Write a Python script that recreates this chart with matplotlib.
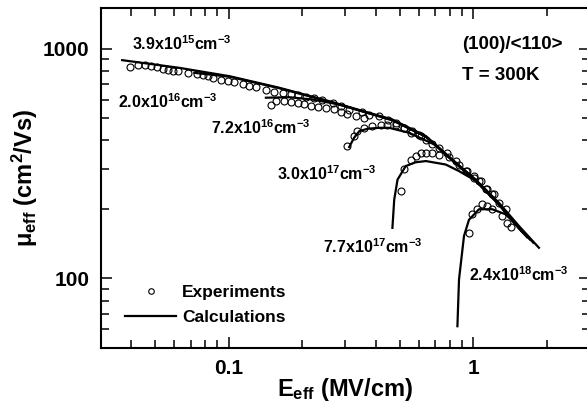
import matplotlib
matplotlib.use('Agg')
import matplotlib.pyplot as plt
from matplotlib.ticker import LogLocator, NullFormatter

plt.rcParams['font.family'] = ['Liberation Sans', 'DejaVu Sans']
plt.rcParams['font.weight'] = 'bold'
plt.rcParams['mathtext.fontset'] = 'custom'
plt.rcParams['mathtext.rm'] = 'Liberation Sans:bold'
plt.rcParams['mathtext.it'] = 'Liberation Sans:bold'
plt.rcParams['mathtext.bf'] = 'Liberation Sans:bold'

# experiments (E_eff in MV/cm, mobility in cm^2/Vs)
exp_39e15_x = [0.0396, 0.0425, 0.0453, 0.0482, 0.0508, 0.0538, 0.0564, 0.0591, 0.0623, 0.068,
               0.074, 0.0783, 0.0821, 0.0861, 0.0931, 0.0991, 0.1055, 0.114, 0.1215, 0.1294]
exp_39e15_y = [832, 844, 844, 838, 829, 816, 805, 797, 797, 784,
               776, 769, 758, 746, 733, 721, 714, 703, 686, 682]
exp_2e16_x = [0.1421, 0.1536, 0.1661, 0.1797, 0.1912, 0.2069, 0.2238, 0.2418, 0.2658, 0.2876,
              0.311, 0.35, 0.3753, 0.4122, 0.4465, 0.4823, 0.5214, 0.5553, 0.6003, 0.6392,
              0.680, 0.7244, 0.783, 0.8478, 0.931, 1.007, 1.055, 1.124, 1.196, 1.273, 1.356]
exp_2e16_y = [659, 648, 642, 631, 627, 617, 611, 600, 582, 560,
              538, 530, 516, 508, 488, 475, 452, 430, 419, 402,
              385, 368, 352, 324, 293, 279, 265, 244, 232, 213, 200]
exp_72e16_x = [0.149, 0.1561, 0.1689, 0.1797, 0.1912, 0.2037, 0.2169, 0.2308, 0.2498, 0.27,
               0.2876, 0.306, 0.3311, 0.3579]
exp_72e16_y = [567, 590, 590, 587, 581, 571, 561, 556, 552, 543,
               531, 520, 508, 500]
exp_3e17_x = [0.306, 0.3259, 0.3362, 0.3579, 0.3871, 0.4188, 0.4457, 0.4823, 0.5214, 0.5637, 0.6099]
exp_3e17_y = [376, 416, 437, 452, 459, 463, 463, 467, 452, 437, 416]
exp_77e17_x = [0.5055, 0.5214, 0.5553, 0.5819, 0.6099, 0.6392, 0.680, 0.7244, 0.796, 0.874,
               0.945, 1.007, 1.072, 1.14, 1.215]
exp_77e17_y = [240, 298, 329, 340, 350, 352, 352, 346, 336, 313,
               293, 274, 265, 244, 232]
exp_24e18_x = [0.960, 0.991, 1.038, 1.082, 1.14, 1.196, 1.313, 1.377, 1.425]
exp_24e18_y = [158, 190, 200, 210, 206, 200, 187, 175, 167]

# calculations
calc_39e15_x = [0.0367, 0.0629, 0.1007, 0.161, 0.258, 0.375, 0.467, 0.640, 0.821, 1.023, 1.274, 1.537, 1.854]
calc_39e15_y = [890, 824, 758, 675, 590, 525, 491, 416, 329, 269, 213, 169, 136]
calc_2e16_x = [0.0724, 0.1007, 0.161, 0.258, 0.375, 0.467, 0.640, 0.821, 1.023, 1.274, 1.537, 1.76]
calc_2e16_y = [784, 754, 672, 587, 523, 489, 414, 327, 267, 211, 167, 143]
calc_72e16_x = [0.142, 0.177, 0.220, 0.283, 0.375, 0.467, 0.640, 0.821, 1.023, 1.274, 1.537, 1.70]
calc_72e16_y = [611, 614, 600, 571, 522, 487, 413, 326, 266, 210, 166, 148]
calc_3e17_x = [0.311, 0.326, 0.342, 0.37, 0.412, 0.453, 0.547, 0.702, 0.821, 1.023, 1.274, 1.537, 1.66]
calc_3e17_y = [373, 410, 437, 448, 452, 452, 430, 380, 326, 266, 210, 165, 151]
calc_77e17_x = [0.467, 0.475, 0.490, 0.529, 0.580, 0.640, 0.771, 0.874, 1.023, 1.274, 1.537, 1.60]
calc_77e17_y = [166, 220, 269, 308, 320, 324, 313, 293, 266, 209, 165, 158]
calc_24e18_x = [0.861, 0.874, 0.916, 0.960, 1.055, 1.196, 1.356, 1.537, 1.58]
calc_24e18_y = [62, 99, 153, 180, 200, 200, 190, 167, 160]

doping_labels = ['3.9x10$^{15}$cm$^{-3}$', '2.0x10$^{16}$cm$^{-3}$', '7.2x10$^{16}$cm$^{-3}$',
                 '3.0x10$^{17}$cm$^{-3}$', '7.7x10$^{17}$cm$^{-3}$', '2.4x10$^{18}$cm$^{-3}$']
# where the labels sit (data coords, left/baseline)
label_pos = [(0.0403, 983), (0.0352, 552), (0.0848, 423), (0.158, 269), (0.242, 129), (0.960, 97.3)]

exps = [(exp_39e15_x, exp_39e15_y), (exp_2e16_x, exp_2e16_y), (exp_72e16_x, exp_72e16_y),
        (exp_3e17_x, exp_3e17_y), (exp_77e17_x, exp_77e17_y), (exp_24e18_x, exp_24e18_y)]
calcs = [(calc_39e15_x, calc_39e15_y), (calc_2e16_x, calc_2e16_y), (calc_72e16_x, calc_72e16_y),
         (calc_3e17_x, calc_3e17_y), (calc_77e17_x, calc_77e17_y), (calc_24e18_x, calc_24e18_y)]

fig = plt.figure(figsize=(5.87, 4.07), dpi=100)
ax = fig.add_axes([0.1716, 0.1457, 0.8336, 0.8346])

for cx, cy in calcs:
    line_h, = ax.plot(cx, cy, color='black', lw=1.6, zorder=2)
for ex, ey in exps:
    mark_h, = ax.plot(ex, ey, 'o', ms=5, mfc='none', mec='black', mew=0.8, zorder=3)

for txt, (px, py) in zip(doping_labels, label_pos):
    ax.text(px, py, txt, fontsize=11.5, fontweight='bold', ha='left', va='baseline')

ax.text(0.902, 997, '(100)/<110>', fontsize=13.5, fontweight='bold', ha='left', va='baseline')
ax.text(0.902, 733, 'T = 300K', fontsize=13.5, fontweight='bold', ha='left', va='baseline')

ax.set_xscale('log')
ax.set_yscale('log')
ax.set_xlim(0.03, 3)
ax.set_ylim(50, 1500)
ax.set_xticks([0.1, 1])
ax.set_xticklabels(['0.1', '1'])
ax.set_yticks([100, 1000])
ax.set_yticklabels(['100', '1000'])
ax.xaxis.set_minor_locator(LogLocator(base=10, subs=range(2, 10)))
ax.yaxis.set_minor_locator(LogLocator(base=10, subs=range(2, 10)))
ax.xaxis.set_minor_formatter(NullFormatter())
ax.yaxis.set_minor_formatter(NullFormatter())

ax.tick_params(which='both', direction='in', top=True, right=True, width=1.1)
ax.tick_params(which='major', length=8, labelsize=15)
ax.tick_params(which='minor', length=5.5)
ax.tick_params(axis='x', pad=8)
ax.tick_params(axis='y', pad=8)
for sp in ax.spines.values():
    sp.set_linewidth(1.5)

ax.set_xlabel('E$_{eff}$ (MV/cm)', fontsize=17, fontweight='bold', labelpad=-1)
ax.set_ylabel('$\\mu_{eff}$ (cm$^2$/Vs)', fontsize=17, fontweight='bold', labelpad=2)

ax.legend([mark_h, line_h], ['Experiments', 'Calculations'], loc='center left',
          bbox_to_anchor=(0.0497, 0.126), frameon=False, fontsize=12.5, handlelength=2.95,
          handletextpad=0.35, labelspacing=0.6, borderpad=0, borderaxespad=0, markerscale=0.8)

fig.savefig('out.png', dpi=100)
